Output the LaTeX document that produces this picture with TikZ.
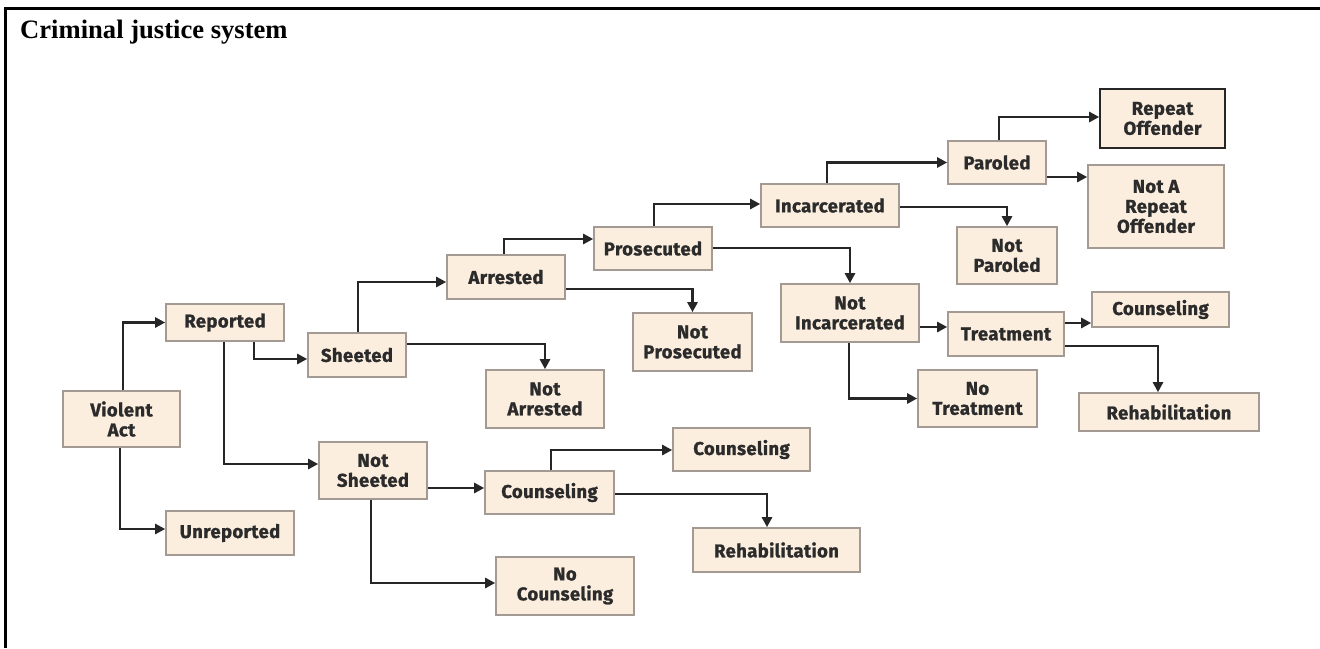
\documentclass[tikz,border=0pt]{standalone}
\usepackage{fontspec}
\setmainfont{Liberation Serif}
\newfontfamily\boxfont[LetterSpace=2,FakeBold=1.2]{Fira Sans}
\usetikzlibrary{arrows.meta}
\definecolor{boxfill}{HTML}{FCEEDF}
\definecolor{boxline}{HTML}{A39B93}
\definecolor{ink}{HTML}{262626}
\definecolor{txt}{HTML}{2B2B2B}
\tikzset{
  box/.style={draw=boxline, line width=1.6pt, fill=boxfill, inner sep=0pt,
    align=center, text=txt, font=\boxfont\bfseries\fontsize{18.5}{20}\selectfont},
  darkbox/.style={box, draw=ink},
  arr/.style={draw=ink, line width=2.8pt, -{Triangle[length=10pt,width=10pt]}},
  frame/.style={draw=black, line width=3pt}
}
\newcommand\bx[7][box]{%
  \node[#1, minimum width={#5pt-#3pt}, minimum height={#6pt-#4pt}]
    (#2) at ({(#3+#5)/2},{(#4+#6)/2}) {#7};}
\begin{document}
\begin{tikzpicture}[x=1pt,y=-1pt]
\useasboundingbox (0,0) rectangle (1320,648);
\coordinate (fa) at (5,648);
\coordinate (fb) at (5,8);
\coordinate (fc) at (1320,8);
\draw[frame] (fa) -- (fb) -- (fc);
\node[anchor=base west, inner sep=0pt, font=\bfseries\fontsize{26.6}{30}\selectfont] (title) at (20,38) {Criminal justice system};
% boxes
\bx{va}{63}{391}{180}{447}{Violent\\Act}
\bx{rep}{166}{304}{284}{341}{Reported}
\bx{unrep}{166}{511}{294}{555}{Unreported}
\bx{sheet}{308}{333}{406}{377}{Sheeted}
\bx{nsheet}{319}{442}{427}{499}{Not\\Sheeted}
\bx{arr}{447}{255}{565}{299}{Arrested}
\bx{narr}{486}{370}{604}{428}{Not\\Arrested}
\bx{pros}{594}{227}{712}{270}{Prosecuted}
\bx{npros}{633}{313}{752}{371}{Not\\Prosecuted}
\bx{inc}{761}{184}{899}{227}{Incarcerated}
\bx{ninc}{781}{284}{919}{342}{Not\\Incarcerated}
\bx{par}{948}{141}{1046}{184}{Paroled}
\bx{npar}{957}{227}{1057}{284}{Not\\Paroled}
\bx[darkbox]{rpt}{1100}{89}{1225}{148}{Repeat\\Offender}
\bx{nrpt}{1088}{165}{1224}{248}{Not A\\Repeat\\Offender}
\bx{treat}{948}{312}{1064}{356}{Treatment}
\bx{cnsT}{1092}{292}{1229}{327}{Counseling}
\bx{ntreat}{918}{370}{1037}{427}{No\\Treatment}
\bx{rehT}{1079}{393}{1259}{431}{Rehabilitation}
\bx{cnsA}{485}{471}{614}{514}{Counseling}
\bx{cnsB}{673}{428}{810}{471}{Counseling}
\bx{rehA}{693}{528}{860}{572}{Rehabilitation}
\bx{ncns}{496}{557}{634}{615}{No\\Counseling}
% connectors
\draw[arr] (123,0 |- va.north) |- (rep.west);
\draw[arr] (120,0 |- va.south) |- (unrep.west |- 0,529);
\draw[arr] (254,0 |- rep.south) |- (sheet.west |- 0,359);
\draw[arr] (224,0 |- rep.south) |- (nsheet.west |- 0,464);
\draw[arr] (358,0 |- sheet.north) |- (arr.west |- 0,282);
\draw[arr] (sheet.east |- 0,344) -| (narr.north);
\draw[arr] (504,0 |- arr.north) |- (pros.west |- 0,239);
\draw[arr] (arr.east |- 0,289) -| (npros.north);
\draw[arr] (654,0 |- pros.north) |- (inc.west |- 0,204);
\draw[arr] (pros.east |- 0,248) -| (ninc.north);
\draw[arr] (827,0 |- inc.north) |- (par.west);
\draw[arr] (inc.east |- 0,207) -| (npar.north);
\draw[arr] (999,0 |- par.north) |- (rpt.west |- 0,117);
\draw[arr] (par.east |- 0,177) -- (nrpt.west |- 0,177);
\draw[arr] (ninc.east |- 0,327) -- (treat.west |- 0,327);
\draw[arr] (849,0 |- ninc.south) |- (ntreat.west);
\draw[arr] (treat.east |- 0,323) -- (cnsT.west |- 0,323);
\draw[arr] (treat.east |- 0,346) -| (1158,0 |- rehT.north);
\draw[arr] (nsheet.east |- 0,488) -- (cnsA.west |- 0,488);
\draw[arr] (371,0 |- nsheet.south) |- (ncns.west |- 0,583);
\draw[arr] (551,0 |- cnsA.north) |- (cnsB.west |- 0,450);
\draw[arr] (cnsA.east |- 0,494) -| (767,0 |- rehA.north);
\end{tikzpicture}
\end{document}
